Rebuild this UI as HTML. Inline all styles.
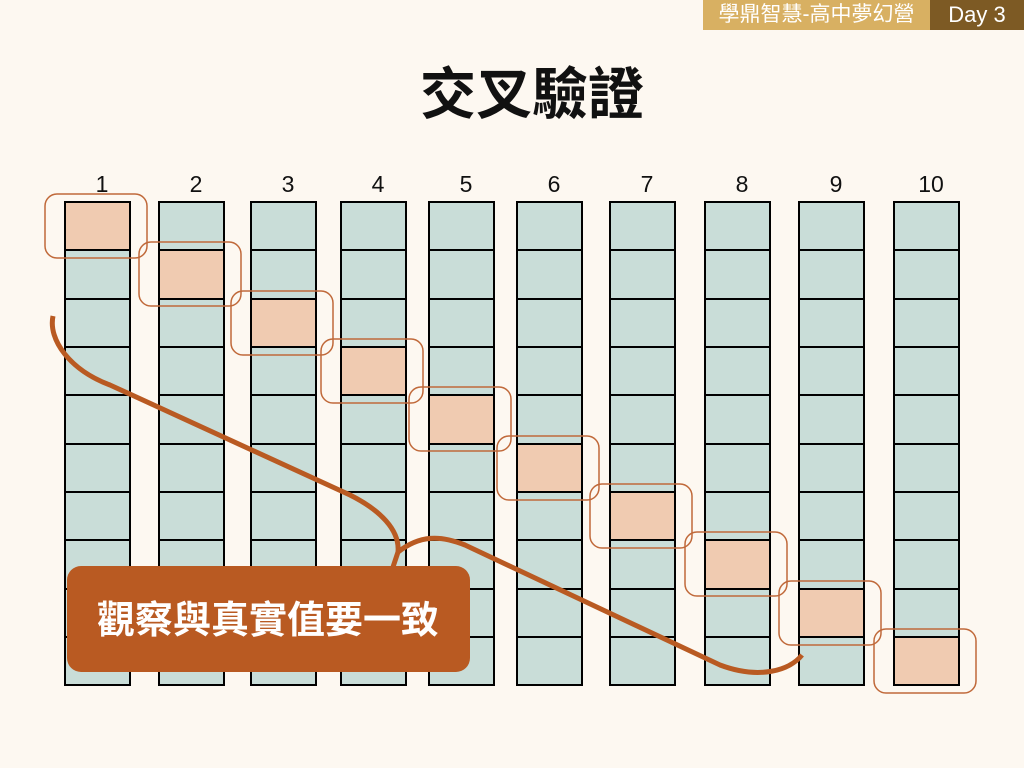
<!DOCTYPE html>
<html><head><meta charset="utf-8"><style>
body{margin:0;width:1024px;height:768px;background:#fdf8f1;overflow:hidden;position:relative;font-family:"Liberation Sans","Noto Sans CJK TC",sans-serif}
.h1{position:absolute;left:703px;top:0;width:227px;height:30px;background:#d8b062;color:#fff;font-size:21px;line-height:30px;text-align:center}
.h2{position:absolute;left:930px;top:0;width:94px;height:30px;background:#7d5a24;color:#fff;font-size:22px;line-height:30px;text-align:center}
.t{position:absolute;left:0;width:1064px;top:50px;text-align:center;font-size:56px;font-weight:bold;color:#111}
</style></head><body>
<div class="h1">學鼎智慧-高中夢幻營</div><div class="h2">Day 3</div>
<div class="t">交叉驗證</div>
<svg width="1024" height="768" style="position:absolute;left:0;top:0">
<g id="g"></g>
</svg>
<script>
var xs=[65,159,251,341,429,517,610,705,799,894],ys=[202,250,299,347,395,444,492,540,589,637,685];
var s='';
xs.forEach(function(x,i){
 s+='<text x="'+(x+37)+'" y="192" text-anchor="middle" font-size="23" font-family="Liberation Sans" fill="#111">'+(i+1)+'</text>';
 for(var r=0;r<10;r++){s+='<rect x="'+x+'" y="'+ys[r]+'" width="65" height="'+(ys[r+1]-ys[r])+'" fill="'+(r==i?'#f0cbb1':'#c9ddd8')+'" stroke="#000" stroke-width="2"/>';}
});
xs.forEach(function(x,i){s+='<rect x="'+(x-20)+'" y="'+(ys[i]-8)+'" width="102" height="64" rx="12" fill="none" stroke="#c0693a" stroke-width="1.5"/>';});
s+='<path d="M53,316 C48,340 70,370 110,385 L350,495 C380,510 400,530 398,552 L392,570" fill="none" stroke="#b95a22" stroke-width="5"/>';
s+='<path d="M398,552 C420,535 440,535 465,545 L720,665 C760,680 790,670 802,655" fill="none" stroke="#b95a22" stroke-width="5"/>';
s+='<rect x="67" y="566" width="403" height="106" rx="14" fill="#b95a22"/>';
s+='<text x="268" y="633" text-anchor="middle" font-size="38" font-weight="bold" font-family="Liberation Sans,Noto Sans CJK TC,sans-serif" fill="#fff">觀察與真實值要一致</text>';
document.getElementById('g').innerHTML=s;
</script>
</body></html>
